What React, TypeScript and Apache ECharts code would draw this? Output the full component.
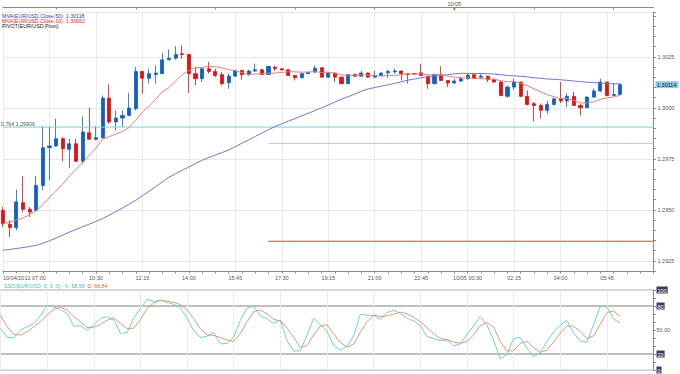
import React, { useEffect, useRef } from 'react';
import * as echarts from 'echarts';

const FONT = 'Liberation Sans';
const N_SLOTS = 99;

const tickLabels = ['10/04/2012 07:00', '', '10:30', '12:15', '14:00', '15:45', '17:30', '19:15', '21:00', '22:45', '10/05 00:30', '02:15', '04:00', '05:45', ''];

const open = [1.29498,1.29429,1.29413,1.29535,1.29503,1.29498,1.29620,1.29805,1.29813,1.29849,1.29797,1.29824,1.29738,1.29878,1.29846,1.29854,1.30048,1.29931,1.29950,1.29963,1.29996,1.30179,1.30146,1.30164,1.30168,1.30236,1.30244,1.30266,1.30262,1.30168,1.30143,1.30192,1.30179,1.30163,1.30124,1.30156,1.30184,1.30163,1.30181,1.30187,1.30164,1.30200,1.30192,1.30187,1.30159,1.30148,1.30168,1.30176,1.30197,1.30151,1.30171,1.30151,1.30119,1.30164,1.30155,1.30171,1.30151,1.30159,1.30172,1.30177,1.30181,1.30168,1.30169,1.30172,1.30155,1.30119,1.30163,1.30135,1.30122,1.30132,1.30143,1.30163,1.30151,1.30155,1.30138,1.30127,1.30057,1.30102,1.30127,1.30057,1.30021,1.30012,1.29988,1.30017,1.30045,1.30034,1.30057,1.30012,1.30001,1.30053,1.30083,1.30127,1.30061,1.30066];
const close = [1.29432,1.29413,1.29539,1.29503,1.29489,1.29620,1.29805,1.29813,1.29849,1.29800,1.29824,1.29738,1.29882,1.29846,1.29854,1.30048,1.29931,1.29950,1.29963,1.29999,1.30179,1.30146,1.30168,1.30171,1.30236,1.30244,1.30262,1.30262,1.30168,1.30143,1.30192,1.30179,1.30159,1.30119,1.30156,1.30184,1.30163,1.30181,1.30187,1.30164,1.30204,1.30192,1.30187,1.30159,1.30148,1.30168,1.30174,1.30195,1.30151,1.30171,1.30151,1.30119,1.30164,1.30155,1.30171,1.30151,1.30159,1.30171,1.30179,1.30181,1.30168,1.30164,1.30166,1.30159,1.30119,1.30164,1.30135,1.30122,1.30132,1.30143,1.30161,1.30146,1.30156,1.30138,1.30127,1.30061,1.30102,1.30127,1.30057,1.30017,1.30012,1.29988,1.30017,1.30045,1.30034,1.30057,1.30012,1.30001,1.30053,1.30083,1.30127,1.30061,1.30066,1.30114];
const low = [1.29416,1.29367,1.29400,1.29489,1.29465,1.29489,1.29596,1.29645,1.29808,1.29738,1.29705,1.29735,1.29726,1.29846,1.29841,1.29849,1.29922,1.29890,1.29906,1.29960,1.29988,1.30070,1.30119,1.30119,1.30168,1.30233,1.30236,1.30241,1.30073,1.30110,1.30127,1.30168,1.30151,1.30110,1.30094,1.30151,1.30138,1.30158,1.30176,1.30161,1.30161,1.30181,1.30181,1.30156,1.30135,1.30145,1.30166,1.30172,1.30150,1.30148,1.30127,1.30116,1.30116,1.30152,1.30152,1.30148,1.30148,1.30156,1.30148,1.30168,1.30135,1.30119,1.30163,1.30159,1.30094,1.30115,1.30132,1.30102,1.30119,1.30127,1.30138,1.30143,1.30143,1.30127,1.30122,1.30057,1.30050,1.30089,1.30053,1.30012,1.29934,1.29947,1.29972,1.30012,1.30024,1.30004,1.30012,1.29963,1.30001,1.30050,1.30078,1.30057,1.30061,1.30066];
const high = [1.29514,1.29449,1.29599,1.29666,1.29514,1.29666,1.29911,1.29909,1.29947,1.29857,1.29849,1.29849,1.29958,1.30001,1.29911,1.30061,1.30115,1.29988,1.29988,1.30074,1.30200,1.30179,1.30192,1.30208,1.30269,1.30287,1.30303,1.30306,1.30266,1.30200,1.30195,1.30225,1.30192,1.30176,1.30168,1.30187,1.30187,1.30187,1.30217,1.30192,1.30205,1.30205,1.30195,1.30190,1.30159,1.30171,1.30177,1.30208,1.30200,1.30174,1.30174,1.30155,1.30166,1.30168,1.30181,1.30174,1.30181,1.30174,1.30187,1.30192,1.30184,1.30171,1.30172,1.30217,1.30160,1.30168,1.30204,1.30135,1.30143,1.30155,1.30168,1.30168,1.30168,1.30159,1.30143,1.30135,1.30110,1.30143,1.30127,1.30086,1.30029,1.30021,1.30034,1.30050,1.30127,1.30070,1.30078,1.30021,1.30057,1.30094,1.30143,1.30127,1.30122,1.30119];

const ma10 = [1.29432,1.29440,1.29450,1.29460,1.29475,1.29495,1.29525,1.29560,1.29595,1.29626,1.29666,1.29698,1.29732,1.29767,1.29803,1.29846,1.29859,1.29872,1.29884,1.29904,1.29939,1.29980,1.30008,1.30041,1.30079,1.30099,1.30132,1.30163,1.30184,1.30198,1.30199,1.30203,1.30202,1.30196,1.30188,1.30182,1.30173,1.30164,1.30166,1.30168,1.30170,1.30171,1.30174,1.30178,1.30177,1.30175,1.30176,1.30178,1.30174,1.30175,1.30170,1.30162,1.30160,1.30160,1.30162,1.30160,1.30159,1.30156,1.30159,1.30160,1.30162,1.30166,1.30167,1.30167,1.30162,1.30163,1.30161,1.30156,1.30151,1.30147,1.30147,1.30145,1.30144,1.30142,1.30142,1.30132,1.30129,1.30129,1.30122,1.30109,1.30094,1.30079,1.30065,1.30055,1.30046,1.30046,1.30037,1.30024,1.30024,1.30030,1.30042,1.30049,1.30054,1.30062];
const ma50 = [1.29302,1.29306,1.29310,1.29315,1.29320,1.29326,1.29336,1.29348,1.29362,1.29376,1.29391,1.29404,1.29417,1.29430,1.29443,1.29457,1.29474,1.29491,1.29509,1.29528,1.29547,1.29569,1.29591,1.29614,1.29637,1.29660,1.29677,1.29694,1.29710,1.29727,1.29743,1.29756,1.29769,1.29781,1.29794,1.29810,1.29827,1.29843,1.29860,1.29876,1.29893,1.29909,1.29922,1.29935,1.29948,1.29961,1.29974,1.29987,1.30000,1.30014,1.30029,1.30043,1.30055,1.30068,1.30082,1.30093,1.30100,1.30107,1.30113,1.30121,1.30128,1.30136,1.30142,1.30148,1.30154,1.30156,1.30160,1.30163,1.30167,1.30170,1.30169,1.30169,1.30169,1.30168,1.30166,1.30163,1.30159,1.30157,1.30155,1.30152,1.30148,1.30145,1.30142,1.30140,1.30138,1.30135,1.30132,1.30129,1.30126,1.30124,1.30123,1.30120,1.30118,1.30118];

const stochK = [52,41,40,50,54,58,68.2,80.6,79.0,75.2,70.9,54.6,55.3,49.5,56.0,64.7,66.4,62.9,45.7,46.9,64.7,77.4,88.3,85.6,87.5,84.5,82.1,78.1,65.0,49.1,40.6,42.2,47.1,32.6,33.2,41.3,62.1,77.5,79.8,67.3,64.0,58.0,62.5,36.7,23.7,23.9,43.6,64.8,56.4,48.5,30.9,24.7,30.0,42.5,69.6,68.5,68.2,63.2,71.8,74.7,70.8,64.8,61.3,55.6,41.8,39.3,36.8,37.7,30.2,32.5,44.2,54.9,66.7,56.3,37.7,13.8,19.5,39.4,40.7,27.3,16.2,22.3,35.4,47.3,55.9,62.0,46.2,36.7,34.6,56.6,79.2,79.0,63.8,58.58];
const stochD = [68.7,54,44.3,43.7,48,54,60.1,68.9,75.9,78.3,75.0,66.9,60.3,53.1,53.6,56.7,62.4,64.7,58.3,51.8,52.4,63.0,76.8,83.8,87.1,85.9,84.7,81.6,75.1,64.1,51.6,44.0,43.3,40.6,37.6,35.7,45.5,60.3,73.1,74.9,70.4,63.1,61.5,52.4,41.0,28.1,30.4,44.1,54.9,56.6,45.3,34.7,28.5,32.4,47.4,60.2,68.8,66.6,67.7,69.9,72.4,70.1,65.6,60.6,52.9,45.6,39.3,37.9,34.9,33.5,35.6,43.9,55.3,59.3,53.6,35.9,23.7,24.2,33.2,35.8,28.1,21.9,24.6,35.0,46.2,55.1,54.7,48.3,39.2,42.6,56.8,71.6,74.0,66.84];

const fibLevel = 1.29906;
const fibLabel = '0.764 1.29906';
const pivotLevel = 1.29826;
const s1Level = 1.29346;
const pivotStartIndex = 40;
const lastPrice = 1.30114;
const dayChangeIndex = 68;

const legendMain = [
  { text: 'MVA(EUR/USD,Close,50): 1.30118', color: '#3a3ab4' },
  { text: 'MVA(EUR/USD,Close,10): 1.30062', color: '#e02424' },
  { text: 'PIVOT(EUR/USD,Pivot)', color: '#222222' },
];

const pad = (n: number) => (n < 10 ? '0' + n : '' + n);
const categories = Array.from({ length: N_SLOTS }, (_, i) => {
  const m = 7 * 60 + 15 * i;
  return pad(Math.floor(m / 60) % 24) + ':' + pad(m % 60);
});

const UP = '#1160c6';
const DOWN = '#e01212';
const AXIS = '#8a8a8a';
const GRID = '#ebebeb';
const T = 'rgba(0,0,0,0)';

export default function App() {
  const ref = useRef<HTMLDivElement>(null);
  useEffect(() => {
    const chart = echarts.init(ref.current!, null, { renderer: 'svg' });
    const candleData = open.map((o, i) => [o, close[i], low[i], high[i]]);
    const fibLine = categories.map(() => fibLevel);
    const pivotLine = categories.map((_, i) => (i >= pivotStartIndex ? pivotLevel : null));
    const s1Line = categories.map((_, i) => (i >= pivotStartIndex ? s1Level : null));
    const labelStyle = { fontSize: 5.5, color: '#555', fontFamily: FONT };
    const flat = (data: (number | null)[], color: string) => ({
      type: 'line', xAxisIndex: 0, yAxisIndex: 0, data, symbol: 'none', silent: true, lineStyle: { color, width: 1 },
    });
    chart.setOption({
      animation: false,
      backgroundColor: '#ffffff',
      grid: [
        { left: 0.5, width: 653, top: 12.5, height: 258.5 },
        { left: 0.5, width: 653, top: 290, height: 80 },
      ],
      xAxis: [
        {
          type: 'category', gridIndex: 0, data: categories, boundaryGap: false,
          axisLine: { lineStyle: { color: AXIS } },
          axisTick: { interval: 1, length: 2.5, lineStyle: { color: AXIS } },
          axisLabel: {
            ...labelStyle, interval: 6, margin: 4, alignMinLabel: 'left',
            formatter: (_v: string, i: number) => tickLabels[i / 7] ?? '',
          },
          splitLine: { show: true, interval: 6, lineStyle: { color: GRID } },
        },
        {
          type: 'category', gridIndex: 1, data: categories, boundaryGap: false,
          axisLine: { show: true, lineStyle: { color: '#d0d0d0' } }, axisTick: { show: false }, axisLabel: { show: false },
          splitLine: { show: true, interval: 6, lineStyle: { color: GRID } },
        },
        {
          type: 'category', gridIndex: 0, data: categories, boundaryGap: false, position: 'top', offset: 5,
          axisLine: { lineStyle: { color: AXIS } },
          axisTick: { inside: true, length: 2, interval: (i: number) => i >= 8 && (i - 8) % 12 === 0, lineStyle: { color: AXIS } },
          axisLabel: { ...labelStyle, interval: 0, margin: 1, formatter: (_v: string, i: number) => (i === dayChangeIndex ? '10/05' : '') },
          splitLine: { show: false },
        },
      ],
      yAxis: [
        {
          type: 'value', gridIndex: 0, position: 'right', min: 1.292, max: 1.30468, interval: 0.0005,
          axisLine: { show: true, lineStyle: { color: AXIS } },
          axisTick: { show: true, length: 2.5, lineStyle: { color: AXIS } },
          axisLabel: {
            ...labelStyle, margin: 4,
            formatter: (v: number) => (Math.round(v * 10000) % 25 === 0 ? v.toFixed(4) : ''),
          },
          splitLine: { show: true, lineStyle: { color: [T, '#e6e6e6', T, T, T] } },
        },
        {
          type: 'value', gridIndex: 1, position: 'right', min: 0, max: 100, interval: 10,
          axisLine: { show: true, lineStyle: { color: AXIS } },
          axisTick: { show: true, length: 2.5, lineStyle: { color: AXIS } },
          axisLabel: {
            ...labelStyle, margin: 3,
            formatter: (v: number) => (v === 50 ? '50.00' : v === 0 || v === 20 || v === 80 || v === 100 ? '{b|' + v + '}' : ''),
            rich: { b: { backgroundColor: '#3b3b5e', color: '#ffffff', fontSize: 5.5, fontFamily: FONT, padding: [1, 1, 0, 1] } },
          },
          splitLine: { show: true, lineStyle: { width: 1.5, color: ['#d6d6d6', T, '#aaaaaa', T, T, T, T, T, '#aaaaaa', T, '#c8c8c8'] } },
        },
      ],
      series: [
        flat(fibLine, '#78cfcf'),
        flat(pivotLine, '#c4c4c4'),
        flat(s1Line, '#d23c3c'),
        {
          type: 'candlestick', xAxisIndex: 0, yAxisIndex: 0, data: candleData, barWidth: 3.6,
          itemStyle: { color: UP, color0: DOWN, borderColor: UP, borderColor0: DOWN, borderWidth: 0.8 },
        },
        { type: 'line', xAxisIndex: 0, yAxisIndex: 0, data: ma50, symbol: 'none', lineStyle: { color: '#7a72d0', width: 1 } },
        { type: 'line', xAxisIndex: 0, yAxisIndex: 0, data: ma10, symbol: 'none', lineStyle: { color: '#e08080', width: 1 } },
        { type: 'line', xAxisIndex: 1, yAxisIndex: 1, data: stochK, symbol: 'none', lineStyle: { color: '#6ed2d2', width: 1 } },
        { type: 'line', xAxisIndex: 1, yAxisIndex: 1, data: stochD, symbol: 'none', lineStyle: { color: '#de9a6c', width: 1 } },
      ],
    });

    const triX = chart.convertToPixel({ xAxisIndex: 0 }, dayChangeIndex) as number;
    const fibY = chart.convertToPixel({ yAxisIndex: 0 }, fibLevel) as number;
    const lastY = chart.convertToPixel({ yAxisIndex: 0 }, lastPrice) as number;
    chart.setOption({
      graphic: [
        ...legendMain.map((l, i) => ({
          type: 'text', x: 2, y: 13 + i * 5.3,
          style: { text: l.text, fill: l.color, fontSize: 5.3, fontFamily: FONT },
        })),
        {
          type: 'text', x: 1, y: fibY - 0.5,
          style: { text: fibLabel, fill: '#555', fontSize: 5.3, fontFamily: FONT, verticalAlign: 'bottom' },
        },
        {
          type: 'rect', shape: { x: 655.5, y: lastY - 3.5, width: 23, height: 7 },
          style: { fill: '#86cfe8' },
        },
        {
          type: 'text', x: 657, y: lastY,
          style: { text: lastPrice.toFixed(5), fill: '#222', fontSize: 5.5, fontFamily: FONT, verticalAlign: 'middle' },
        },
        {
          type: 'text', x: 4, y: 283,
          style: {
            text: '{k|SSO(EUR/USD, 5, 3, 3) - K: 58.58}  {d|D: 66.84}',
            fontSize: 5.3, fontFamily: FONT,
            rich: { k: { fill: '#3fc0c0', fontSize: 5.3, fontFamily: FONT }, d: { fill: '#d2691e', fontSize: 5.3, fontFamily: FONT } },
          },
        },
        {
          type: 'polygon',
          shape: { points: [[triX - 1.8, 8], [triX + 1.8, 8], [triX, 11.5]] },
          style: { fill: '#f0a030' },
        },
      ],
    });
    return () => chart.dispose();
  }, []);
  return <div ref={ref} style={{ position: 'fixed', left: 0, top: 0, width: 680, height: 374 }} />;
}
